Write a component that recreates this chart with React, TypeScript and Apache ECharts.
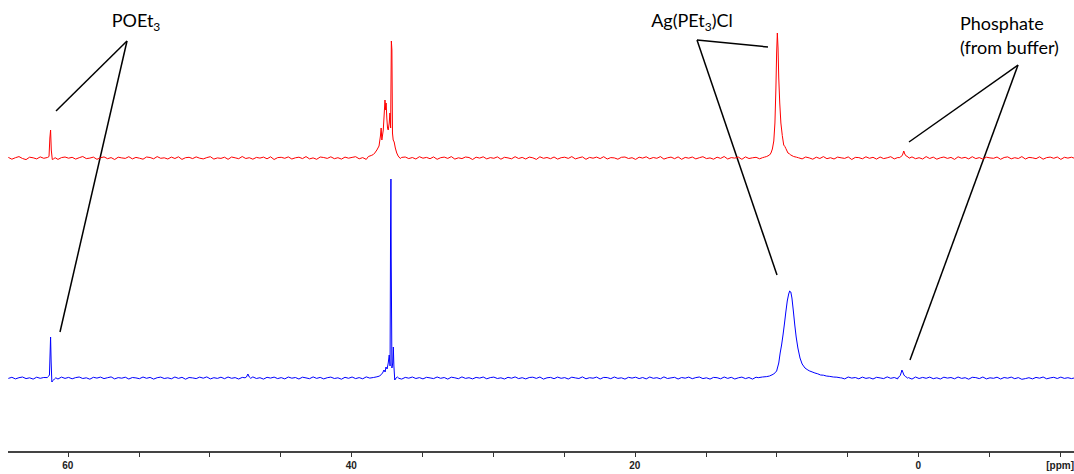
import React, { useEffect, useRef } from "react";
import * as echarts from "echarts";

// chemical-shift axis (ppm), reversed; ticks every 5 ppm
const ppmMin = -15;
const ppmMax = 65;
const tickStep = 5;
const labelValues = [60, 40, 20, 0];
const unitValue = -10;
const unitLabel = "[ppm]";

// baseline noise, sampled from 64.2 ppm downwards every 0.25 ppm
const noiseStart = 64.2;
const noiseStep = 0.25;

const redNoise: number[] = [
  0.6, -1.2, 0.3, 1.4, -0.5, -1.6, 0.8, 0.2, -0.9, 1.1, -0.3, 0.5, 1.2, -0.8, -1.4, 0.4, 1.0, -0.2, 0.7, -1.1,
  0.3, 1.5, -0.6, -0.1, 0.9, -1.3, 0.2, 1.1, -0.7, 0.4, -1.5, 0.8, 0.1, -0.4, 1.3, -0.9, 0.6, -0.2, -1.2, 1.0,
  0.5, -0.8, 1.4, -0.3, 0.2, -1.0, 0.9, -0.5, 1.2, -1.4, 0.3, 0.7, -0.6, 1.1, -0.2, -0.9, 0.4, 1.3, -1.1, 0.1,
  -0.4, 0.8, -1.3, 1.0, 0.2, -0.7, 1.5, -0.5, 0.3, -1.2, 0.6, -0.1, 0.9, -0.8, 1.2, -1.5, 0.4, 0.7, -0.3, 1.1,
  -1.0, 0.2, 0.8, -0.6, 1.4, -0.9, 0.1, -1.3, 1.0, 0.5, -0.4, 1.2, -0.7, 0.3, -1.1, 0.9, -0.2, 0.6, 1.3, -0.8,
  0.4, -1.4, 0.7, 1.1, -0.5, 0.2, -0.9, 1.5, -0.3, 0.8, -1.2, 0.1, 1.0, -0.6, 0.5, -1.0, 1.3, -0.2, 0.6, -0.7,
  1.1, -1.3, 0.3, 0.9, -0.4, 1.4, -1.1, 0.2, -0.6, 1.0, 0.5, -1.5, 0.8, -0.1, 1.2, -0.9, 0.4, -0.3, 1.1, -1.2,
  0.7, 0.1, -0.8, 1.3, -0.5, 0.6, -1.0, 0.9, 0.2, -1.4, 1.2, -0.3, 0.5, -0.7, 1.0, -1.1, 0.3, 0.8, -0.4, 1.4,
  -0.9, 0.2, 1.1, -1.3, 0.6, -0.2, 0.9, -0.6, 1.3, -1.0, 0.4, 0.1, -1.2, 0.7, 1.0, -0.5, 0.3, -1.4, 0.8, -0.1,
  1.2, -0.8, 0.5, -0.3, 1.4, -1.1, 0.2, 0.9, -0.7, 1.1, -1.3, 0.6, -0.2, 1.0, -0.9, 0.3, 1.3, -0.6, 0.1, -1.2,
  0.8, -0.4, 1.5, -1.0, 0.4, -0.1, 0.9, -1.3, 1.1, -0.5, 0.2, 0.7, -0.8, 1.2, -1.4, 0.5, -0.3, 1.0, -0.6, 0.3,
  -1.1, 1.3, -0.2, 0.6, -0.9, 1.0, 0.1, -1.2, 0.8, -0.5, 1.4, -0.7, 0.3, -1.0, 0.9, 0.2, -0.4, 1.1, -1.5, 0.6,
  0.4, -0.8, 1.2, -0.3, 0.7, -1.1, 1.0, -0.6, 0.2, 1.3, -0.9, 0.5, -1.3, 0.8, -0.1, 1.1, -0.7, 0.3, -1.0, 1.4,
  -0.5, 0.9, -1.2, 0.2, 1.0, -0.4, 0.6, -1.4, 1.2, -0.2, 0.7, -0.9, 1.3, -0.6, 0.4, -1.1, 0.8, 0.1, -0.3, 1.0,
  -1.3, 0.5, 1.1, -0.8, 0.3, -0.5, 1.4, -1.0, 0.6, 0.2, -0.7, 1.2, -1.2, 0.4, 0.9, -0.3, 1.0, -1.4, 0.7, -0.1,
  0.8, -0.5,
];

const blueNoise: number[] = [
  -0.4, 0.7, -0.9, 0.3, 1.0, -0.6, 0.2, -1.1, 0.8, -0.3, 0.5, 1.1, -0.7, 0.1, -1.0, 0.9, -0.4, 0.6, -0.8, 0.4,
  1.0, -0.5, 0.2, -1.2, 0.7, -0.1, 0.9, -0.6, 0.3, 1.1, -0.9, 0.4, -0.2, 0.8, -1.0, 0.5, 0.1, -0.7, 1.0, -0.3,
  0.6, -1.1, 0.3, 0.9, -0.5, 0.2, -0.8, 1.0, -0.4, 0.7, -1.2, 0.5, 0.1, -0.6, 0.9, -0.2, 1.1, -0.9, 0.3, -0.4,
  0.8, -0.7, 1.0, -0.3, 0.4, -1.0, 0.6, 0.2, -0.8, 1.1, -0.5, 0.3, -1.1, 0.7, -0.1, 0.9, -0.6, 0.4, -0.9, 1.0,
  -0.2, 0.5, -1.0, 0.8, 0.1, -0.7, 1.1, -0.4, 0.6, -0.9, 0.3, 0.9, -0.5, 0.2, -1.2, 0.7, -0.3, 1.0, -0.6, 0.4,
  -0.8, 1.1, -0.1, 0.5, -1.0, 0.8, -0.4, 0.3, 0.9, -0.7, 0.2, -1.1, 0.6, -0.2, 1.0, -0.5, 0.4, -0.9, 0.7, 0.1,
  -0.6, 1.0, -0.3, 0.5, -1.1, 0.8, 0.2, -0.7, 1.1, -0.4, 0.3, -0.9, 0.6, -0.1, 1.0, -0.8, 0.4, 0.9, -0.5, 0.2,
  -1.0, 0.7, -0.2, 1.1, -0.6, 0.3, -0.9, 0.5, 0.8, -0.4, 1.0, -1.1, 0.2, 0.6, -0.7, 0.9, -0.3, 0.4, -1.0, 0.8,
  0.1, -0.5, 1.1, -0.8, 0.3, -0.2, 0.9, -1.0, 0.6, 0.4, -0.7, 1.0, -0.4, 0.2, -1.1, 0.7, -0.1, 0.8, -0.6, 0.5,
  -0.9, 1.0, -0.3, 0.3, -0.8, 1.1, -0.5, 0.1, 0.7, -1.0, 0.5, -0.2, 0.9, -0.7, 0.4, 1.0, -0.6, 0.2, -1.1, 0.6,
  0.3, -0.8, 1.0, -0.4, 0.7, -1.0, 0.2, 0.9, -0.6, 0.5, -1.1, 0.8, -0.1, 0.4, -0.9, 1.1, -0.5, 0.3, -0.7, 0.9,
  -0.2, 0.6, -1.0, 0.8, -0.4, 0.1, 1.0, -0.7, 0.5, -0.3, 0.9, -1.1, 0.4, 0.7, -0.6, 0.2, -0.9, 1.0, -0.1, 0.5,
  -0.8, 0.9, -0.4, 0.3, -1.0, 0.7, 0.1, -0.6, 1.1, -0.3, 0.5, -0.9, 0.8, -0.2, 0.4, -1.1, 1.0, -0.5, 0.6, -0.3,
  0.9, -0.7, 0.2, -1.0, 0.8, -0.1, 0.5, -0.8, 1.0, -0.4, 0.3, -1.2, 0.7, 0.4, -0.6, 1.0, -0.9, 0.2, -0.3, 0.8,
  -1.0, 0.5, -0.2, 0.9, -0.7, 0.4, -1.3, -0.6, 0.3, -0.9, 0.6, -0.2, 1.0, -0.8, 0.1, 0.7, -0.5, 0.9, -0.4, 0.3,
  -0.6, 0.2,
];

// red (top) spectrum peaks: [ppm, intensity]
const redPOEt3: [number, number][] = [
  [61.4, 0.8], [61.33, 1.5], [61.27, 20], [61.22, 28], [61.17, 8], [61.1, -1.5], [61.0, -0.8], [60.9, 0.3],
];
const redPEt3Cluster: [number, number][] = [
  [38.8, 1.5], [38.6, 2.5], [38.45, 3.5], [38.35, 5], [38.2, 8], [38.05, 12], [37.95, 22], [37.9, 30], [37.85, 18],
  [37.75, 28], [37.68, 45], [37.63, 58], [37.58, 48], [37.55, 55], [37.5, 40], [37.45, 30], [37.4, 28], [37.33, 35],
  [37.28, 45], [37.23, 30], [37.18, 117], [37.14, 108], [37.1, 25], [37.05, 18], [36.98, 16], [36.9, 10], [36.8, 5],
  [36.7, 2], [36.55, -0.5], [36.45, 0.6],
];
const redAgPEt3Cl: [number, number][] = [
  [11.0, 0.3], [10.85, 0.9], [10.7, 1.5], [10.5, 3], [10.4, 5], [10.3, 9], [10.2, 17], [10.12, 35], [10.05, 70],
  [10.0, 105], [9.95, 125], [9.9, 110], [9.85, 80], [9.78, 55], [9.7, 35], [9.6, 22.5], [9.5, 13], [9.42, 11.5],
  [9.35, 9.5], [9.2, 5], [9.1, 4.2], [9.0, 3], [8.8, 1.5], [8.6, 0.8], [8.45, 0.2],
];
const redPhosphate: [number, number][] = [
  [1.35, 0.3], [1.25, 1], [1.12, 3], [1.03, 7], [0.96, 4], [0.86, 2], [0.72, 1], [0.65, -0.2],
];

// blue (bottom) spectrum peaks: [ppm, intensity]
const bluePOEt3: [number, number][] = [
  [61.45, 0.4], [61.38, 1.5], [61.3, 3], [61.26, 22], [61.22, 41], [61.18, 16], [61.13, -4], [61.05, -2.5],
  [60.95, -1], [60.85, 0.2],
];
const blueSmall: [number, number][] = [
  [47.5, 0.2], [47.4, 1], [47.3, 4], [47.2, 1], [47.1, -0.3],
];
const bluePEt3Cluster: [number, number][] = [
  [38.4, 0.6], [38.2, 1.2], [38.0, 2], [37.8, 5], [37.7, 8], [37.62, 6], [37.56, 11], [37.48, 9], [37.4, 15],
  [37.33, 23], [37.27, 12], [37.235, 150], [37.21, 199], [37.19, 120], [37.14, 10], [37.08, 15], [37.04, 31],
  [37.0, 12], [36.94, -2], [36.85, 0], [36.75, 1], [36.65, -0.3],
];
const blueAgPEt3Cl: [number, number][] = [
  [11.3, 0.3], [11.0, 1], [10.7, 1.4], [10.5, 2], [10.2, 4], [10.0, 7], [9.85, 15], [9.75, 25], [9.65, 33],
  [9.55, 43], [9.45, 54], [9.35, 66], [9.25, 77], [9.15, 84], [9.08, 87], [9.0, 86], [8.92, 80], [8.82, 67],
  [8.72, 53], [8.62, 41], [8.5, 30], [8.35, 20], [8.2, 14], [8.0, 10], [7.85, 8.5], [7.7, 7.2], [7.5, 6.1], [7.3, 5],
  [7.1, 4.2], [6.9, 3], [6.7, 2.8], [6.5, 2], [6.25, 1.6], [6.0, 1], [5.75, 0.8], [5.5, 0.2],
];
const bluePhosphate: [number, number][] = [
  [1.45, 0.3], [1.35, 1.2], [1.28, 2.5], [1.22, 5], [1.16, 8], [1.1, 6], [1.02, 3], [0.92, 1.5], [0.8, 0.5],
  [0.75, -0.2],
];

const annotationFont = "Lato, 'Open Sans', sans-serif";

// combine baseline samples and peak lists (baseline samples inside a peak's range are left out)
function buildTrace(noise: number[], peaks: [number, number][][]): [number, number][] {
  const base: [number, number][] = noise
    .map((v, i) => [noiseStart - i * noiseStep, v] as [number, number])
    .filter(([p]) => !peaks.some((pk) => p <= pk[0][0] && p >= pk[pk.length - 1][0]));
  const all = base.concat(...peaks);
  return all.sort((a, b) => b[0] - a[0]);
}

export default function App() {
  const ref = useRef<HTMLDivElement>(null);

  useEffect(() => {
    if (!ref.current) return;
    const chart = echarts.init(ref.current, undefined, { renderer: "svg" });

    const redTrace = buildTrace(redNoise, [redPOEt3, redPEt3Cluster, redAgPEt3Cl, redPhosphate]);
    const blueTrace = buildTrace(blueNoise, [bluePOEt3, blueSmall, bluePEt3Cluster, blueAgPEt3Cl, bluePhosphate]);

    const xBase = {
      type: "value" as const,
      inverse: true,
      min: ppmMin,
      max: ppmMax,
      interval: tickStep,
      splitLine: { show: false },
    };

    const lineStyle = { stroke: "#000", lineWidth: 1.5 };
    const richMain = { fontSize: 18, lineHeight: 22, verticalAlign: "top", fontFamily: annotationFont, color: "#000" };
    const richSub = {
      fontSize: 12,
      lineHeight: 14,
      verticalAlign: "top",
      padding: [9, 0, 0, 0],
      fontFamily: annotationFont,
      color: "#000",
    };

    chart.setOption({
      animation: false,
      backgroundColor: "#fff",
      grid: [
        { left: -3, right: -57, top: 0, height: 200, outerBoundsMode: "none", containLabel: false },
        { left: -3, right: -57, top: 150, height: 302, outerBoundsMode: "none", containLabel: false },
      ],
      xAxis: [
        { ...xBase, gridIndex: 0, show: false },
        {
          ...xBase,
          gridIndex: 1,
          position: "bottom",
          axisLine: { show: false, onZero: false },
          axisTick: {
            show: true,
            length: 5,
            lineStyle: { color: "#333", width: 1 },
          },
          axisLabel: {
            show: true,
            margin: 8,
            fontSize: 10,
            fontWeight: "bold",
            fontFamily: "'Liberation Sans Narrow', 'Liberation Sans', Arial, sans-serif",
            color: "#222",
            showMinLabel: true,
            showMaxLabel: true,
            hideOverlap: false,
            formatter: (v: number) =>
              v === unitValue ? unitLabel : labelValues.includes(v) ? String(v) : "",
          },
        },
      ],
      yAxis: [
        { type: "value", gridIndex: 0, min: -42, max: 158, show: false, splitLine: { show: false } },
        { type: "value", gridIndex: 1, min: -74, max: 228, show: false, splitLine: { show: false } },
      ],
      series: [
        {
          type: "line",
          xAxisIndex: 0,
          yAxisIndex: 0,
          data: redTrace,
          showSymbol: false,
          symbol: "none",
          clip: false,
          lineStyle: { color: "#ff0000", width: 1 },
          itemStyle: { color: "#ff0000" },
        },
        {
          type: "line",
          xAxisIndex: 1,
          yAxisIndex: 1,
          data: blueTrace,
          showSymbol: false,
          symbol: "none",
          clip: false,
          lineStyle: { color: "#0000ff", width: 1 },
          itemStyle: { color: "#0000ff" },
        },
      ],
      graphic: [
        // horizontal axis base line
        { type: "line", shape: { x1: 8, y1: 452, x2: 1074, y2: 452 }, style: { stroke: "#444", lineWidth: 2 } },
        // POEt3
        { type: "line", shape: { x1: 127, y1: 41, x2: 56, y2: 111 }, style: lineStyle },
        { type: "line", shape: { x1: 127, y1: 41, x2: 60, y2: 332 }, style: lineStyle },
        {
          type: "text",
          x: 136,
          y: 11,
          style: {
            text: "{m|POEt}{s|3}",
            align: "center",
            verticalAlign: "top",
            rich: { m: richMain, s: richSub },
          },
        },
        // Ag(PEt3)Cl
        { type: "line", shape: { x1: 697, y1: 40, x2: 768, y2: 47 }, style: lineStyle },
        { type: "line", shape: { x1: 697, y1: 40, x2: 777, y2: 275 }, style: lineStyle },
        {
          type: "text",
          x: 692,
          y: 11,
          style: {
            text: "{m|Ag(PEt}{s|3}{m|)Cl}",
            align: "center",
            verticalAlign: "top",
            rich: { m: richMain, s: richSub },
          },
        },
        // Phosphate
        { type: "line", shape: { x1: 1018, y1: 65, x2: 909, y2: 142 }, style: lineStyle },
        { type: "line", shape: { x1: 1018, y1: 65, x2: 910, y2: 360 }, style: lineStyle },
        {
          type: "text",
          x: 960,
          y: 11,
          style: {
            text: "Phosphate\n(from buffer)",
            align: "left",
            verticalAlign: "top",
            fontSize: 18,
            lineHeight: 24,
            fontFamily: annotationFont,
            fill: "#000",
          },
        },
      ],
    });

    return () => chart.dispose();
  }, []);

  return (
    <div
      ref={ref}
      style={{ position: "absolute", left: 0, top: 0, width: 1074, height: 474, background: "#fff" }}
    />
  );
}
